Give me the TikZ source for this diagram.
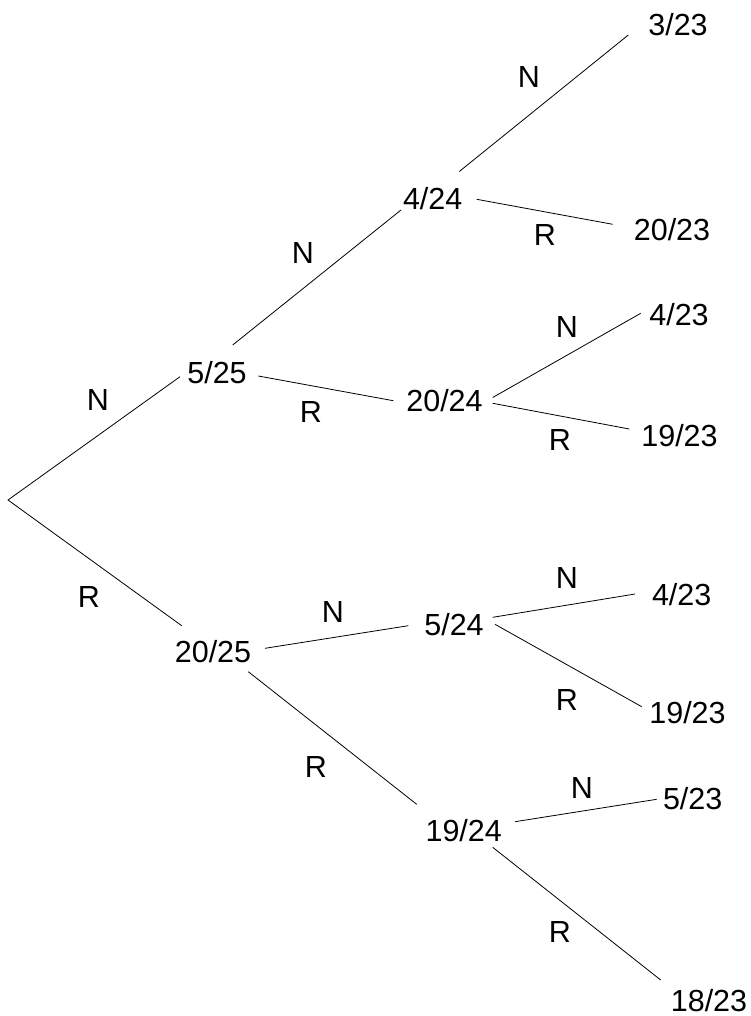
\documentclass[tikz,border=0pt]{standalone}
\usepackage{fontspec}
\setmainfont{Liberation Sans}
\begin{document}
\begin{tikzpicture}[x=1pt,y=-1pt,
  prob/.style={anchor=base,inner sep=0pt,font=\fontsize{30.5}{36}\selectfont},
  branchlbl/.style={anchor=center,inner sep=0pt,font=\fontsize{30.5}{36}\selectfont},
  edge/.style={line width=0.8pt,black}]
\useasboundingbox (0,0) rectangle (751,1016);

% probabilities
\node[prob] (p525)  at (217,383)   {5/25};
\node[prob] (p2025) at (213,662)   {20/25};
\node[prob] (p424)  at (432.7,209.3) {4/24};
\node[prob] (p2024) at (444.5,411.7) {20/24};
\node[prob] (p524)  at (454,635)   {5/24};
\node[prob] (p1924) at (463.7,841.7) {19/24};
\node[prob] (q1)    at (678,36)    {3/23};
\node[prob] (q2)    at (672,240.7) {20/23};
\node[prob] (q3)    at (679,325)   {4/23};
\node[prob] (q4)    at (679.5,446.7) {19/23};
\node[prob] (q5)    at (681.7,605) {4/23};
\node[prob] (q6)    at (687.5,723.3) {19/23};
\node[prob] (q7)    at (692.7,809.3) {5/23};
\node[prob] (q8)    at (709,1011)  {18/23};

% branch end points
\coordinate (root) at (8,500);
\coordinate (a1) at (180,376.7);
\coordinate (a2) at (181.7,625.7);
\coordinate (b1s) at (232.7,345);   \coordinate (b1e) at (401,210);
\coordinate (b2s) at (258.3,376);   \coordinate (b2e) at (393.3,400.7);
\coordinate (b3s) at (265,648.3);   \coordinate (b3e) at (408.3,625.7);
\coordinate (b4s) at (248.3,671.7); \coordinate (b4e) at (416.7,804.3);
\coordinate (c1s) at (459.3,171.5); \coordinate (c1e) at (628.3,35);
\coordinate (c2s) at (476.7,199.3); \coordinate (c2e) at (612.7,224.3);
\coordinate (c3s) at (492.7,397.5); \coordinate (c3e) at (640.7,313.3);
\coordinate (c4s) at (492.7,403.3); \coordinate (c4e) at (629.3,429);
\coordinate (c5s) at (492.7,617.3); \coordinate (c5e) at (635,594);
\coordinate (c6s) at (495,624.3);   \coordinate (c6e) at (641.7,706.7);
\coordinate (c7s) at (515,821.7);   \coordinate (c7e) at (656.7,799.3);
\coordinate (c8s) at (492.7,847.3); \coordinate (c8e) at (660.7,980);

% branches
\draw[edge] (a1) -- (root) -- (a2);
\draw[edge] (b1s) -- (b1e);
\draw[edge] (b2s) -- (b2e);
\draw[edge] (b3s) -- (b3e);
\draw[edge] (b4s) -- (b4e);
\draw[edge] (c1s) -- (c1e);
\draw[edge] (c2s) -- (c2e);
\draw[edge] (c3s) -- (c3e);
\draw[edge] (c4s) -- (c4e);
\draw[edge] (c5s) -- (c5e);
\draw[edge] (c6s) -- (c6e);
\draw[edge] (c7s) -- (c7e);
\draw[edge] (c8s) -- (c8e);

% branch labels
\node[branchlbl] (l1)  at (98,400)  {N};
\node[branchlbl] (l2)  at (89,597)  {R};
\node[branchlbl] (l3)  at (303,253) {N};
\node[branchlbl] (l4)  at (311,412) {R};
\node[branchlbl] (l5)  at (333,612) {N};
\node[branchlbl] (l6)  at (316,767) {R};
\node[branchlbl] (l7)  at (529,77)  {N};
\node[branchlbl] (l8)  at (545,235) {R};
\node[branchlbl] (l9)  at (567,327) {N};
\node[branchlbl] (l10) at (560,440) {R};
\node[branchlbl] (l11) at (567,578) {N};
\node[branchlbl] (l12) at (567,700) {R};
\node[branchlbl] (l13) at (582,788) {N};
\node[branchlbl] (l14) at (560,932) {R};
\end{tikzpicture}
\end{document}
